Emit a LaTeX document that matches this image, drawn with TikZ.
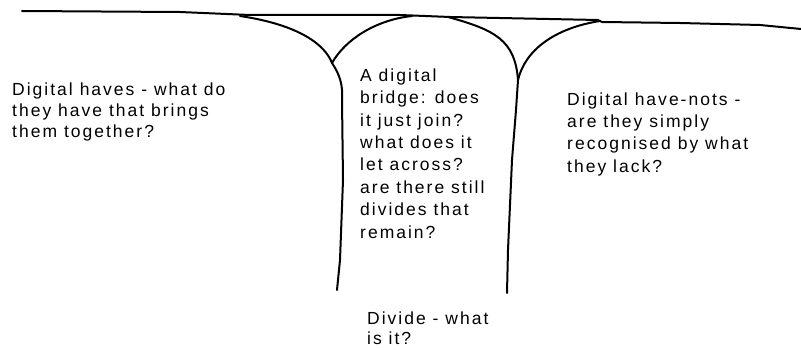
\documentclass[tikz,border=0pt]{standalone}
\usepackage{fontspec}
\setmainfont{Liberation Sans}[LetterSpace=11.5]
\begin{document}
\begin{tikzpicture}[x=1pt,y=-1pt,
  ink/.style={line width=2pt,line cap=round,line join=round,black},
  label/.style={anchor=base west,inner sep=0pt,align=left}]
\useasboundingbox (0,0) rectangle (801,350);
% horizon line
\coordinate (h0) at (22,11);
\coordinate (h1) at (801,29);
\draw[ink] (h0) -- (180,12) -- (250,15) -- (400,15) -- (450,17) -- (598,20) -- (602,22) -- (680,23) -- (760,25) -- (h1);
% left tube
\coordinate (la) at (240,16);
\coordinate (lm) at (332,63);
\coordinate (lb) at (412,16);
\coordinate (lend) at (337,290);
\draw[ink] (la) .. controls (300,25) and (325,45) .. (lm);
\draw[ink] (lm) .. controls (345,40) and (375,20) .. (lb);
\draw[ink] (lm) .. controls (340,75) and (343,85) .. (342,100) -- (343,180) -- (340,260) -- (lend);
% right tube
\coordinate (ra) at (448,17);
\coordinate (rm) at (518,80);
\coordinate (rb) at (600,21);
\coordinate (rend) at (507,293);
\draw[ink] (ra) .. controls (495,30) and (515,40) .. (rm);
\draw[ink] (rm) .. controls (525,50) and (555,28) .. (rb);
\draw[ink] (rm) -- (516,110) -- (512,160) -- (508,250) -- (rend);
% texts (anchor = baseline of the last line)
\node[label,font=\fontsize{17.5}{21}\selectfont] (haves) at (12,138) {Digital haves - what do\\they have that brings\\them together?};
\node[label,font=\fontsize{17.5}{22.4}\selectfont] (bridge) at (360,238) {A digital\\bridge: does\\it just join?\\what does it\\let across?\\are there still\\divides that\\remain?};
\node[label,font=\fontsize{17.5}{22.3}\selectfont] (havenots) at (567,172) {Digital have-nots -\\are they simply\\recognised by what\\they lack?};
\node[label,font=\fontsize{17.5}{20}\selectfont] (divide) at (367,344) {Divide - what\\is it?};
\end{tikzpicture}
\end{document}
